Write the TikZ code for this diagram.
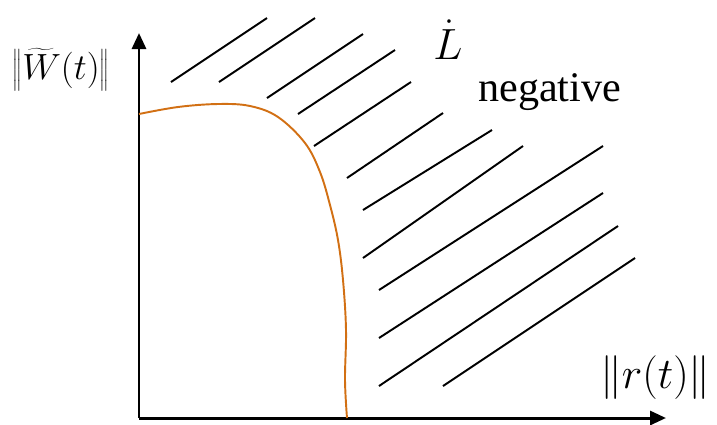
\documentclass[tikz,border=0pt]{standalone}
\usepackage{fontspec}
\setmainfont{Liberation Serif}
\usetikzlibrary{arrows.meta}
\definecolor{bndorange}{RGB}{210,112,20}
\tikzset{
  axis/.style={line width=1.7pt, -{Triangle[length=0.32cm, width=0.28cm]}},
  hatch/.style={line width=1.1pt},
  boundary/.style={bndorange, line width=1.1pt},
  lbl/.style={inner sep=0pt, font=\fontsize{24}{28}\selectfont}
}
\begin{document}
\begin{tikzpicture}[x=0.02cm, y=-0.02cm]
    \useasboundingbox (0,0) rectangle (717,424);

    % 1. Axes
    \coordinate (O) at (139,418);
    \coordinate (ytip) at (139,33);
    \coordinate (xtip) at (666,418);
    \draw[axis] (O) -- (ytip);
    \draw[axis] (O) -- (xtip);

    % 2. Axis labels
    \node[lbl, font=\fontsize{22}{26}\selectfont] (wlabel) at (61,70)
        {$\left\|\widetilde{W}(t)\right\|$};
    \node[lbl, anchor=east] (rlabel) at (711,378) {$\|r(t)\|$};

    % 3. Hatching of the region where Ldot is negative
    \foreach \xa/\ya/\xb/\yb in {171/82/267/18, 219/82/315/18, 267/98/363/34,
        298/114/395/50, 314/146/411/82, 347/178/443/113, 363/210/492/130,
        363/258/523/146, 379/290/603/146, 379/338/603/193, 379/386/618/226,
        443/386/635/258}
        \draw[hatch] (\xa,\ya) -- (\xb,\yb);

    % 4. Boundary curve
    \draw[boundary] plot[smooth, tension=0.6] coordinates {(139,114) (178,107)
        (218,104) (250,106) (278,117) (305,143) (320,172) (330,205) (338,240)
        (343,280) (346,330) (345,380) (347,418)};

    % 5. Region label
    \node[lbl] (ldot) at (448,40) {$\dot{L}$};
    \node[lbl, anchor=west] (neg) at (478,92) {negative};
\end{tikzpicture}
\end{document}
